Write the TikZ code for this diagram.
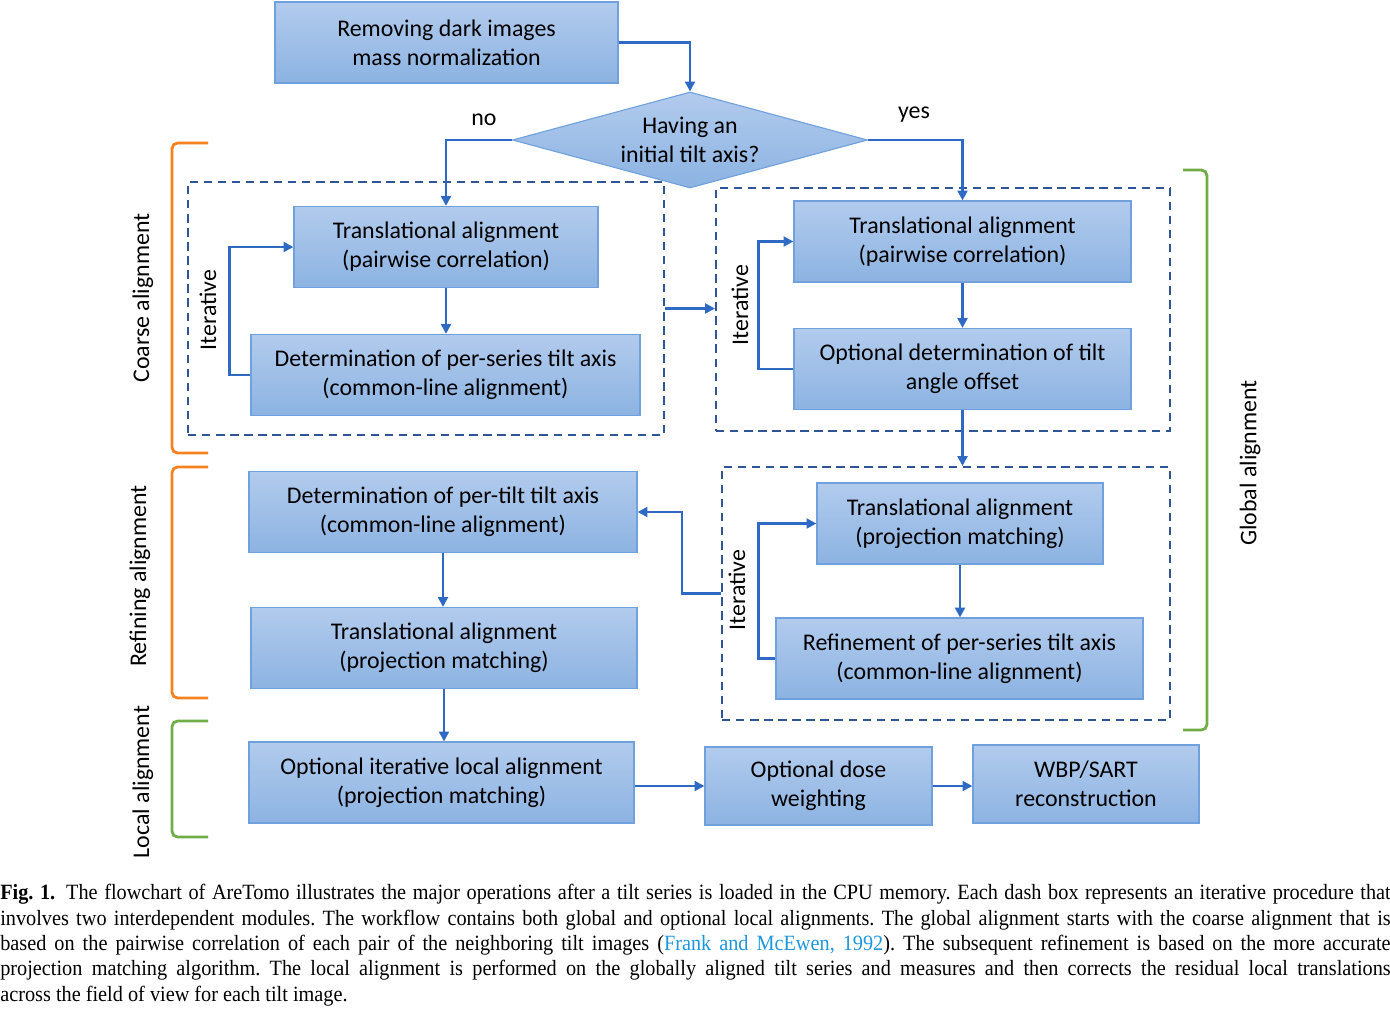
\documentclass[tikz,border=0pt]{standalone}
\usepackage{fontspec}
\setmainfont{Carlito}
\newfontfamily\capfont{Liberation Serif}[FakeStretch=0.93]
\usetikzlibrary{arrows.meta, positioning, calc, shapes.geometric}

\definecolor{boxtop}{RGB}{178,203,237}
\definecolor{boxbot}{RGB}{140,179,226}
\definecolor{boxline}{RGB}{112,161,221}
\definecolor{flow}{RGB}{46,106,196}
\definecolor{dashblue}{RGB}{47,85,151}
\definecolor{brorange}{RGB}{245,130,32}
\definecolor{brgreen}{RGB}{112,173,71}
\definecolor{citeblue}{RGB}{30,150,220}

\begin{document}
\begin{tikzpicture}[
    x=0.025cm, y=-0.025cm,
    >={Triangle[length=7pt,width=7pt]},
    font=\fontsize{17}{20.6}\selectfont,
    every node/.style={align=center},
    block/.style={draw=boxline, line width=0.8pt, top color=boxtop, bottom color=boxbot,
                  minimum height=2.025cm, inner sep=2pt},
    decision/.style={diamond, draw=boxline, line width=0.8pt, top color=boxtop,
                  bottom color=boxbot, aspect=3.7, inner sep=0pt,
                  minimum width=8.875cm, minimum height=2.4cm},
    loopbox/.style={draw=dashblue, line width=1.4pt, dash pattern=on 6pt off 4pt},
    flowline/.style={->, draw=flow, line width=1.8pt},
    bracket/.style={line width=2pt, rounded corners=4pt},
    sidelabel/.style={rotate=90}
]
\useasboundingbox (0,0) rectangle (1390,1008);

% 1) Preprocessing and the decision.
\node[block, minimum width=8.575cm] (rm) at (446.5,42.5)
   {Removing dark images\\mass normalization};
\node[decision] (dia) at (690,140) {Having an\\initial tilt axis?};
\node (no) at (484,120) {no};
\node (yes) at (914,115) {yes};

% 2) Dashed boxes (iterative procedures).
\node[loopbox, minimum width=11.9cm, minimum height=6.325cm] (loopA) at (426,308.5) {};
\node[loopbox, minimum width=11.35cm, minimum height=6.075cm] (loopB) at (943,309.5) {};
\node[loopbox, minimum width=11.2cm, minimum height=6.325cm] (loopC) at (946,593.5) {};

% 3) Coarse alignment (no initial tilt axis).
\node[block, minimum width=7.6cm] (ta1) at (446,247)
   {Translational alignment\\(pairwise correlation)};
\node[block, minimum width=9.725cm] (dt1) at (445.5,375)
   {Determination of per-series tilt axis\\(common-line alignment)};
\node[sidelabel] (itA) at (208,310) {Iterative};

% 4) Coarse alignment (initial tilt axis given).
\node[block, minimum width=8.425cm] (ta2) at (962.5,241.5)
   {Translational alignment\\(pairwise correlation)};
\node[block, minimum width=8.425cm] (od) at (962.5,369)
   {Optional determination of tilt\\angle offset};
\node[sidelabel] (itB) at (740,305) {Iterative};

% 5) Refinement loop.
\node[block, minimum width=7.15cm] (ta3) at (960,523.5)
   {Translational alignment\\(projection matching)};
\node[block, minimum width=9.175cm] (rf) at (959.5,658.5)
   {Refinement of per-series tilt axis\\(common-line alignment)};
\node[sidelabel] (itC) at (737,590) {Iterative};

% 6) Refining alignment, local alignment and reconstruction.
\node[block, minimum width=9.7cm] (dt2) at (443,512)
   {Determination of per-tilt tilt axis\\(common-line alignment)};
\node[block, minimum width=9.65cm] (ta4) at (444,648)
   {Translational alignment\\(projection matching)};
\node[block, minimum width=9.625cm] (la) at (441.5,782.5)
   {Optional iterative local alignment\\(projection matching)};
\node[block, minimum width=5.675cm, minimum height=1.95cm] (dose) at (818.5,786)
   {Optional dose\\weighting};
\node[block, minimum width=5.65cm, minimum height=1.95cm] (wbp) at (1086,784)
   {WBP/SART\\reconstruction};

% Connectors.
\draw[flowline] (rm.east) -| (dia.north);
\draw[flowline] (dia.west) -| (ta1.north);
\draw[flowline] (dia.east) -| (ta2.north);
\draw[flowline] (ta1.south) -- (ta1.south |- dt1.north);
\draw[flowline] (dt1.west) -- ++(-21,0) |- (ta1.west);
\draw[flowline] (loopA.east) -- (loopA.east -| loopB.west);
\draw[flowline] (ta2.south) -- (ta2.south |- od.north);
\draw[flowline] (od.west) -- ++(-35,0) |- (ta2.west);
\draw[flowline] (od.south) -- (od.south |- loopC.north);
\draw[flowline] (ta3.south) -- (ta3.south |- rf.north);
\draw[flowline] (rf.west) -- ++(-17,0) |- (ta3.west);
\draw[flowline] (loopC.west) -- ++(-39,0) |- (dt2.east);
\draw[flowline] (dt2.south) -- (dt2.south |- ta4.north);
\draw[flowline] (ta4.south) -- (ta4.south |- la.north);
\draw[flowline] (la.east |- dose.west) -- (dose.west);
\draw[flowline] (dose.east) -- (dose.east -| wbp.west);

% Brackets with their labels.
\draw[brorange, bracket] (208,143) -- (172,143) -- (172,453) -- (208,453);
\node[sidelabel] (coarse) at (143,298) {Coarse alignment};
\draw[brorange, bracket] (208,467) -- (172,467) -- (172,698) -- (208,698);
\node[sidelabel] (refining) at (140,576) {Refining alignment};
\draw[brgreen, bracket] (208,721) -- (172,721) -- (172,837) -- (208,837);
\node[sidelabel] (local) at (143,782) {Local alignment};
\draw[brgreen, bracket] (1183,170) -- (1207,170) -- (1207,730) -- (1183,730);
\node[sidelabel] (global) at (1250,463) {Global alignment};

% Caption.
\node[anchor=north west, text width=34.75cm, align=justify, inner sep=0pt,
      font=\capfont\fontsize{15.5}{18.1}\selectfont\frenchspacing] (caption) at (0,884)
   {\textbf{Fig. 1.}\enspace The flowchart of AreTomo illustrates the major operations after a tilt series is loaded in the CPU memory. Each dash box represents an iterative procedure that\linebreak
    involves two interdependent modules. The workflow contains both global and optional local alignments. The global alignment starts with the coarse alignment that is\linebreak
    based on the pairwise correlation of each pair of the neighboring tilt images ({\color{citeblue}Frank and McEwen, 1992}). The subsequent refinement is based on the more accurate\linebreak
    projection matching algorithm. The local alignment is performed on the globally aligned tilt series and measures and then corrects the residual local translations\linebreak
    across the field of view for each tilt image.};

\end{tikzpicture}
\end{document}
